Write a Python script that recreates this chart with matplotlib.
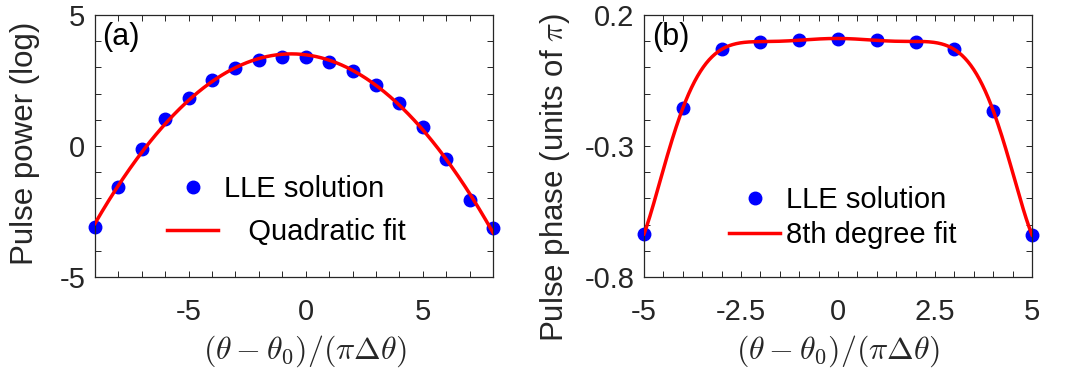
import numpy as np
import matplotlib
matplotlib.use("Agg")
import matplotlib.pyplot as plt
from matplotlib.ticker import MultipleLocator, FixedLocator

plt.rcParams['font.family'] = ['Liberation Sans', 'DejaVu Sans']
plt.rcParams['mathtext.fontset'] = 'cm'
plt.rcParams['axes.unicode_minus'] = False

# ---- data (a) ----
x_a = [-9, -8, -7, -6, -5, -4, -3, -2, -1, 0, 1, 2, 3, 4, 5, 6, 7, 8]
power_a = [-3.11, -1.58, -0.12, 1.02, 1.85, 2.52, 2.97, 3.28, 3.41, 3.39,
           3.20, 2.87, 2.33, 1.66, 0.72, -0.49, -2.08, -3.14]
# ---- data (b) ----
x_b = [-5, -4, -3, -2, -1, 0, 1, 2, 3, 4, 5]
phase_b = [-0.636, -0.156, 0.069, 0.098, 0.105, 0.1085, 0.105, 0.098, 0.069,
           -0.165, -0.639]

xticks_a = [-5, 0, 5]
yticks_a = [-5, 0, 5]
xticks_b = [-5, -2.5, 0, 2.5, 5]
yticks_b = [-0.8, -0.3, 0.2]

TXT = '#262626'
FS = 21

fig = plt.figure(figsize=(10.65, 3.68), dpi=100)
W, H = 1065, 368
axA = fig.add_axes([95 / W, 1 - 277 / H, (493 - 95) / W, (277 - 15) / H])
axB = fig.add_axes([644 / W, 1 - 277 / H, (1032 - 644) / W, (277 - 15) / H])

xlabel = r'$(\theta-\theta_0)/(\pi\Delta\theta)$'


def style(ax):
    for s in ax.spines.values():
        s.set_color(TXT)
        s.set_linewidth(0.9)
    ax.tick_params(which='both', direction='in', top=True, right=True,
                   length=4, width=0.7, color=TXT, labelcolor=TXT,
                   labelsize=FS)
    ax.tick_params(axis='x', which='both', pad=15)
    ax.tick_params(axis='y', which='both', pad=7)


# ---- panel (a) ----
ca = np.polyfit(x_a, power_a, 2)
xa_f = np.linspace(min(x_a), max(x_a), 400)
axA.plot(x_a, power_a, 'o', color='#0000ff', ms=9, label='LLE solution',
         zorder=2, clip_on=False)
axA.plot(xa_f, np.polyval(ca, xa_f), '-', color='#ff0000', lw=2.5,
         label='   Quadratic fit', zorder=3)
axA.set_xlim(-9, 8)
axA.set_ylim(-5, 5)
axA.xaxis.set_major_locator(FixedLocator(xticks_a))
axA.yaxis.set_major_locator(FixedLocator(yticks_a))
axA.xaxis.set_minor_locator(MultipleLocator(1))
axA.yaxis.set_minor_locator(MultipleLocator(1))
style(axA)
axA.set_ylabel('Pulse power (log)', fontsize=22.5, color=TXT)
axA.yaxis.set_label_coords(-0.138, 0.51)
axA.set_xlabel(xlabel, fontsize=23, color=TXT, labelpad=1)
axA.xaxis.set_label_coords(0.528, -0.215)
axA.text(0.018, 0.975, '(a)', transform=axA.transAxes, fontsize=22,
         va='top', ha='left', color='black')
axA.legend(loc='upper left', bbox_to_anchor=(0.181, 0.39), frameon=False,
           fontsize=FS, borderpad=0, borderaxespad=0, handlelength=1.76,
           handletextpad=0.2, labelspacing=0.52, labelcolor='black')

# ---- panel (b) ----
cb = np.polyfit(x_b, phase_b, 8)
xb_f = np.linspace(min(x_b), max(x_b), 400)
axB.plot(x_b, phase_b, 'o', color='#0000ff', ms=9, label='LLE solution',
         zorder=2, clip_on=False)
axB.plot(xb_f, np.polyval(cb, xb_f), '-', color='#ff0000', lw=2.5,
         label='8th degree fit', zorder=3)
axB.set_xlim(-5, 5)
axB.set_ylim(-0.8, 0.2)
axB.xaxis.set_major_locator(FixedLocator(xticks_b))
axB.yaxis.set_major_locator(FixedLocator(yticks_b))
axB.xaxis.set_minor_locator(MultipleLocator(0.5))
axB.yaxis.set_minor_locator(MultipleLocator(0.1))
axB.set_xticklabels(['-5', '-2.5', '0', '2.5', '5'])
axB.set_yticklabels(['-0.8', '-0.3', '0.2'])
style(axB)
axB.set_ylabel(r'Pulse phase (units of $\pi$)', fontsize=22.5, color=TXT)
axB.yaxis.set_label_coords(-0.185, 0.378)
axB.set_xlabel(xlabel, fontsize=23, color=TXT, labelpad=1)
axB.xaxis.set_label_coords(0.5, -0.215)
axB.text(0.021, 0.975, '(b)', transform=axB.transAxes, fontsize=22,
         va='top', ha='left', color='black')
axB.legend(loc='upper left', bbox_to_anchor=(0.219, 0.347), frameon=False,
           fontsize=FS, borderpad=0, borderaxespad=0, handlelength=1.76,
           handletextpad=0.2, labelspacing=0.25, labelcolor='black')

fig.savefig('out.png', dpi=100)
